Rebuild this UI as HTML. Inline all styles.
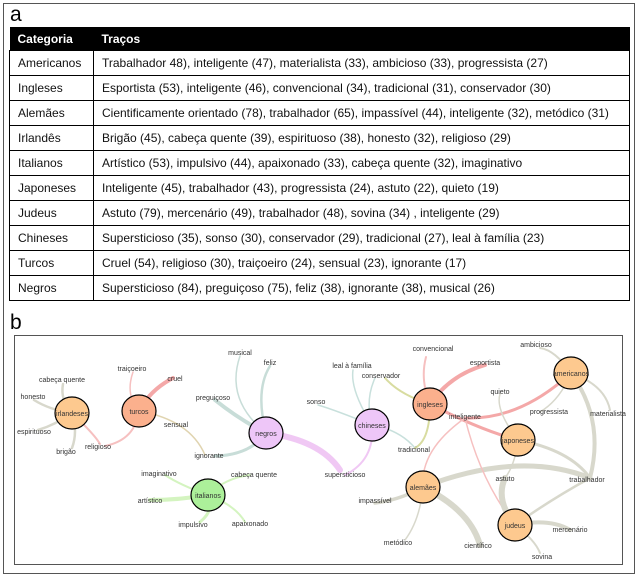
<!DOCTYPE html>
<html><head><meta charset="utf-8"><style>
body{margin:0;width:638px;height:575px;background:#fff;font-family:"Liberation Sans",sans-serif;position:relative;overflow:hidden}
.outer{position:absolute;left:3px;top:3px;width:630px;height:569px;border:1px solid #555}
.lbl{position:absolute;font-size:21px;color:#000}
table{position:absolute;left:9px;top:27px;width:621px;border-collapse:collapse;font-size:12px}
th{background:#000;color:#fff;text-align:left;height:23px;padding:0 8px;font-weight:bold}
td{border:1px solid #000;height:24px;padding:0 8px;color:#111}
td:first-child{width:68px;padding:0 7px 0 8px}
svg{position:absolute;left:0;top:0}
</style></head><body>
<div class="outer"></div>
<div class="lbl" style="left:10px;top:3px">a</div>
<div class="lbl" style="left:10px;top:311px">b</div>
<table>
<tr><th>Categoria</th><th>Traços</th></tr>
<tr><td>Americanos</td><td>Trabalhador 48), inteligente (47), materialista (33), ambicioso (33), progressista (27)</td></tr>
<tr><td>Ingleses</td><td>Esportista (53), inteligente (46), convencional (34), tradicional (31), conservador (30)</td></tr>
<tr><td>Alemães</td><td>Cientificamente orientado (78), trabalhador (65), impassível (44), inteligente (32), metódico (31)</td></tr>
<tr><td>Irlandês</td><td>Brigão (45), cabeça quente (39), espirituoso (38), honesto (32), religioso (29)</td></tr>
<tr><td>Italianos</td><td>Artístico (53), impulsivo (44), apaixonado (33), cabeça quente (32), imaginativo</td></tr>
<tr><td>Japoneses</td><td>Inteligente (45), trabalhador (43), progressista (24), astuto (22), quieto (19)</td></tr>
<tr><td>Judeus</td><td>Astuto (79), mercenário (49), trabalhador (48), sovina (34) , inteligente (29)</td></tr>
<tr><td>Chineses</td><td>Supersticioso (35), sonso (30), conservador (29), tradicional (27), leal à família (23)</td></tr>
<tr><td>Turcos</td><td>Cruel (54), religioso (30), traiçoeiro (24), sensual (23), ignorante (17)</td></tr>
<tr><td>Negros</td><td>Supersticioso (84), preguiçoso (75), feliz (38), ignorante (38), musical (26)</td></tr>
</table>
<svg width="638" height="575" font-family="Liberation Sans, sans-serif" font-size="7" fill="#333">
<rect x="14.5" y="335.5" width="608" height="229" fill="none" stroke="#555"/>
<g fill="none" stroke-linecap="round">
<g stroke="#d8d8cc" stroke-width="2.5">
<path d="M72 413 Q60 400 63 384"/><path d="M72 413 Q50 410 34 400"/><path d="M72 413 Q55 425 38 430"/><path d="M72 413 Q78 432 72 448"/></g>
<path d="M72 413 Q95 435 100 444" stroke="#f6c0c0" stroke-width="2"/>
<path d="M139 411 Q125 395 133 372" stroke="#f6c0c0" stroke-width="1.5"/>
<path d="M139 411 Q150 390 173 378" stroke="#f4a8a8" stroke-width="4"/>
<path d="M139 411 Q135 440 105 446" stroke="#f6c0c0" stroke-width="2"/>
<path d="M139 411 Q190 420 205 455" stroke="#e0d4b0" stroke-width="1.5"/>
<g stroke="#c8ddd8"><path d="M266 433 Q225 400 240 356" stroke-width="1.5"/><path d="M266 433 Q255 390 270 366" stroke-width="2.5"/><path d="M266 433 Q240 420 215 400" stroke-width="4"/><path d="M266 433 Q250 455 215 456" stroke-width="3"/></g>
<path d="M266 433 Q320 440 340 470" stroke="#f0c8f4" stroke-width="6"/>
<g stroke="#d4f4c0"><path d="M208 495 Q180 485 165 475" stroke-width="2"/><path d="M208 495 Q180 500 150 500" stroke-width="4"/><path d="M208 495 Q215 510 200 522" stroke-width="3"/><path d="M208 495 Q235 505 245 522" stroke-width="2"/><path d="M208 495 Q225 478 250 475" stroke-width="2"/></g>
<g stroke="#c8e0dc" stroke-width="1.5"><path d="M372 425 Q350 390 353 370"/><path d="M372 425 Q335 410 318 405"/><path d="M372 425 Q400 430 415 448"/><path d="M372 425 Q365 400 375 378"/></g>
<path d="M372 425 Q375 460 345 475" stroke="#f0c8f4" stroke-width="2"/>
<path d="M430 404 Q400 395 385 378" stroke="#d8dca0" stroke-width="2"/>
<path d="M430 404 Q430 440 415 448" stroke="#d8dca0" stroke-width="2"/>
<path d="M430 404 Q420 380 426 357" stroke="#f6c0c0" stroke-width="2"/>
<path d="M430 404 Q450 375 485 365" stroke="#f4a8a8" stroke-width="4"/>
<path d="M430 404 Q480 430 518 440" stroke="#f4a8a8" stroke-width="3"/>
<path d="M571 373 Q520 420 465 418" stroke="#f4a8a8" stroke-width="3"/>
<g stroke="#d8d8cc"><path d="M571 373 Q555 350 540 348" stroke-width="2"/><path d="M571 373 Q560 400 540 412" stroke-width="1.5"/><path d="M571 373 Q605 385 610 410" stroke-width="2"/><path d="M571 373 Q605 420 590 478" stroke-width="4"/></g>
<g stroke="#d8d8cc"><path d="M518 440 Q495 410 500 394" stroke-width="1.5"/><path d="M518 440 Q570 450 590 478" stroke-width="3"/><path d="M518 440 Q515 465 505 478" stroke-width="1.5"/></g>
<path d="M423 487 Q420 450 465 418" stroke="#f6c0c0" stroke-width="1.5"/>
<g stroke="#d8d8cc"><path d="M423 487 Q520 450 590 478" stroke-width="5"/><path d="M423 487 Q400 500 375 503" stroke-width="3.5"/><path d="M423 487 Q420 520 405 540" stroke-width="1.5"/><path d="M423 487 Q470 510 480 545" stroke-width="6"/></g>
<path d="M515 525 Q480 480 465 418" stroke="#f6c0c0" stroke-width="1.5"/>
<g stroke="#d8d8cc"><path d="M515 525 Q495 500 505 478" stroke-width="6"/><path d="M515 525 Q550 500 590 478" stroke-width="2.5"/><path d="M515 525 Q550 518 570 530" stroke-width="4"/><path d="M515 525 Q535 540 540 553" stroke-width="2"/></g>
</g>
<g stroke="#000" stroke-width="1.2">
<ellipse cx="72" cy="413" rx="17" ry="16" fill="#fdc98f"/>
<ellipse cx="139" cy="411" rx="17" ry="16" fill="#fbb08d"/>
<ellipse cx="266" cy="433" rx="17" ry="16" fill="#eec6f8"/>
<ellipse cx="208" cy="495" rx="17" ry="16" fill="#acf09a"/>
<ellipse cx="372" cy="425" rx="17" ry="16" fill="#eec6f8"/>
<ellipse cx="430" cy="404" rx="17" ry="16" fill="#fbb08d"/>
<ellipse cx="571" cy="373" rx="17" ry="16" fill="#fdc98f"/>
<ellipse cx="518" cy="440" rx="17" ry="16" fill="#fdc98f"/>
<ellipse cx="423" cy="487" rx="17" ry="16" fill="#fdc98f"/>
<ellipse cx="515" cy="525" rx="17" ry="16" fill="#fdc98f"/>
</g>
<g text-anchor="middle">
<text x="72" y="416">irlandeses</text><text x="139" y="414">turcos</text><text x="266" y="436">negros</text><text x="208" y="498">italianos</text><text x="372" y="428">chineses</text><text x="430" y="407">ingleses</text><text x="571" y="376">americanos</text><text x="518" y="443">japoneses</text><text x="423" y="490">alemães</text><text x="515" y="528">judeus</text>
<text x="132" y="371">traiçoeiro</text><text x="175" y="381">cruel</text><text x="62" y="382">cabeça quente</text><text x="33" y="399">honesto</text><text x="34" y="434">espirituoso</text><text x="66" y="454">brigão</text><text x="98" y="449">religioso</text><text x="176" y="427">sensual</text>
<text x="240" y="355">musical</text><text x="270" y="365">feliz</text><text x="213" y="400">preguiçoso</text><text x="209" y="458">ignorante</text><text x="159" y="476">imaginativo</text><text x="254" y="477">cabeça quente</text><text x="150" y="503">artístico</text><text x="193" y="527">impulsivo</text><text x="250" y="526">apaixonado</text>
<text x="316" y="404">sonso</text><text x="433" y="351">convencional</text><text x="485" y="365">esportista</text><text x="536" y="347">ambicioso</text><text x="352" y="368">leal à família</text><text x="381" y="378">conservador</text><text x="500" y="394">quieto</text><text x="549" y="414">progressista</text><text x="608" y="416">materialista</text><text x="465" y="419">inteligente</text><text x="414" y="452">tradicional</text><text x="345" y="477">supersticioso</text><text x="505" y="481">astuto</text><text x="587" y="482">trabalhador</text><text x="375" y="503">impassível</text><text x="398" y="545">metódico</text><text x="478" y="548">científico</text><text x="570" y="532">mercenário</text><text x="542" y="559">sovina</text>
</g>
</svg>
</body></html>
